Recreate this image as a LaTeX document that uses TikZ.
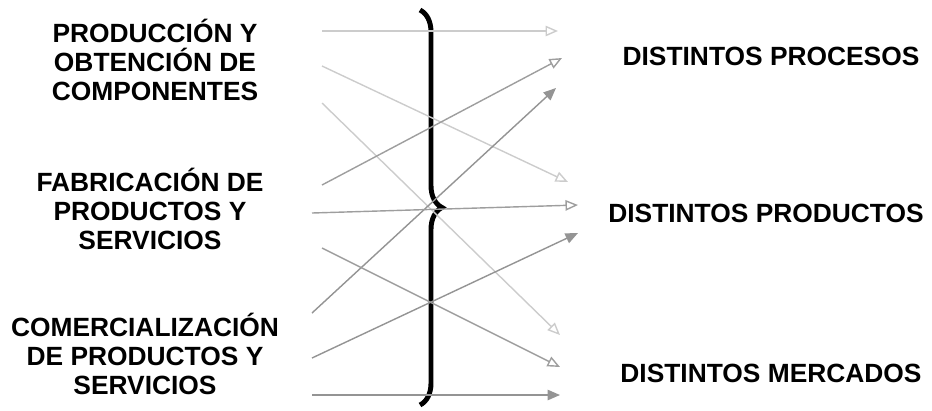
\documentclass[tikz,border=0pt]{standalone}
\usepackage{fontspec}
\setmainfont{Liberation Sans}
\usetikzlibrary{arrows.meta,decorations.pathreplacing}

\begin{document}
\begin{tikzpicture}[
        x=0.02cm, y=-0.02cm,
        block/.style={
            align=center, inner sep=0pt,
            font=\fontsize{15}{16.6}\selectfont\bfseries
          },
        target/.style={
            inner sep=0pt,
            font=\fontsize{15}{16.6}\selectfont\bfseries
          },
        openlight/.style={-{Triangle[open, length=0.25cm, width=0.21cm]}, draw=black!20, line width=0.8pt},
        openmid/.style={-{Triangle[open, length=0.25cm, width=0.21cm]}, draw=black!38, line width=0.8pt},
        fullmid/.style={-{Triangle[length=0.25cm, width=0.21cm]}, draw=black!42, fill=black!42, line width=0.8pt},
        bracket/.style={decorate, decoration={brace, amplitude=0.44cm, aspect=0.5}, line width=2.8pt},
      ]
      \useasboundingbox (0, 0) rectangle (932, 410);

      % Left side: activities
      \node [block] (prod) at (155, 60) {PRODUCCIÓN Y\\OBTENCIÓN DE\\COMPONENTES};
      \node [block] (fabr) at (150, 209) {FABRICACIÓN DE\\PRODUCTOS Y\\SERVICIOS};
      \node [block] (come) at (145, 354) {COMERCIALIZACIÓN\\DE PRODUCTOS Y\\SERVICIOS};

      % Right side: results
      \node [target] (proc) at (771, 56) {DISTINTOS PROCESOS};
      \node [target] (prodt) at (766, 213) {DISTINTOS PRODUCTOS};
      \node [target] (merc) at (771, 373) {DISTINTOS MERCADOS};

      % Brace
      \coordinate (bracetop) at (420, 10);
      \coordinate (bracebot) at (420, 405);
      \draw [bracket] (bracetop) -- (bracebot);

      % Arrow ends
      \coordinate (a1s) at (322, 31);  \coordinate (a1e) at (558, 31);
      \coordinate (a2s) at (322, 66);  \coordinate (a2e) at (568, 182);
      \coordinate (a3s) at (322, 103); \coordinate (a3e) at (560, 335);
      \coordinate (a4s) at (322, 185); \coordinate (a4e) at (562, 58);
      \coordinate (a5s) at (312, 313); \coordinate (a5e) at (556, 88);
      \coordinate (a6s) at (312, 213); \coordinate (a6e) at (578, 205);
      \coordinate (a7s) at (322, 248); \coordinate (a7e) at (560, 367);
      \coordinate (a8s) at (312, 358); \coordinate (a8e) at (578, 233);
      \coordinate (a9s) at (312, 395); \coordinate (a9e) at (560, 395);

      % Arrows
      \draw [openlight] (a1s) -- (a1e);
      \draw [openlight] (a2s) -- (a2e);
      \draw [openlight] (a3s) -- (a3e);
      \draw [openmid] (a4s) -- (a4e);
      \draw [fullmid] (a5s) -- (a5e);
      \draw [openmid] (a6s) -- (a6e);
      \draw [openmid] (a7s) -- (a7e);
      \draw [fullmid] (a8s) -- (a8e);
      \draw [fullmid] (a9s) -- (a9e);
    \end{tikzpicture}
\end{document}
